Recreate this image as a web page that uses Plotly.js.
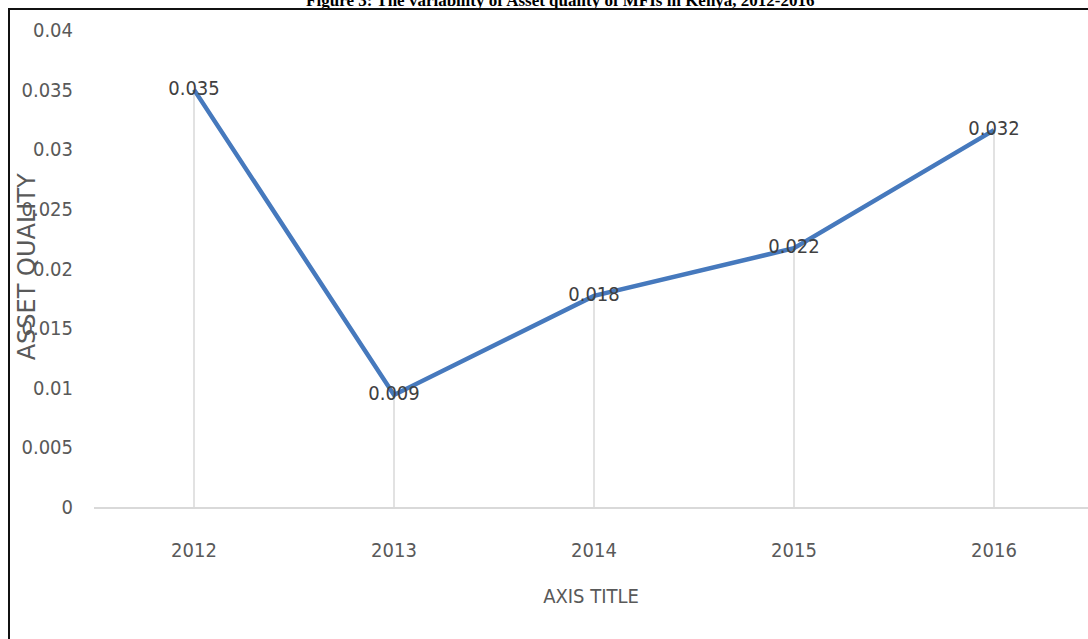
<!DOCTYPE html>
<html>
<head>
<meta charset="utf-8">
<script src="https://cdn.plot.ly/plotly-3.0.1.min.js"></script>
<style>
  html, body { margin: 0; padding: 0; background: #fff; overflow: hidden; }
  #wrap { position: relative; width: 1088px; height: 639px; }
  #chart { width: 1088px; height: 639px; }
  #frame { position: absolute; left: 8px; top: 8px; width: 1100px; height: 650px;
           border-left: 2px solid #111; border-top: 2px solid #111; pointer-events: none; }
</style>
</head>
<body>
<div id="wrap">
  <div id="chart"></div>
  <div id="frame"></div>
</div>
<script>
const years = ['2012', '2013', '2014', '2015', '2016'];
const assetQuality = [0.035, 0.0094, 0.0177, 0.0217, 0.0316];
const pointLabels = ['0.035', '0.009', '0.018', '0.022', '0.032'];
const yTickVals = [0, 0.005, 0.01, 0.015, 0.02, 0.025, 0.03, 0.035, 0.04];
const yTickText = ['0', '0.005', '0.01', '0.015', '0.02', '0.025', '0.03', '0.035', '0.04'];
const chartTitle = 'Figure 3: The variability of Asset quality of MFIs in Kenya, 2012-2016';
const xTitle = 'AXIS TITLE';
const yTitle = 'ASSET QUALITY';

const labelFont = 'DejaVu Sans Condensed, DejaVu Sans, sans-serif';

const trace = {
  x: years,
  y: assetQuality,
  type: 'scatter',
  mode: 'lines+text',
  text: pointLabels,
  textposition: 'middle center',
  textfont: { family: labelFont, size: 20, color: '#404040' },
  line: { color: '#4679bd', width: 4.5 },
  error_y: {
    type: 'data', symmetric: false,
    array: assetQuality.map(() => 0),
    arrayminus: assetQuality,
    width: 0, color: '#d9d9d9', thickness: 1.5
  },
  hoverinfo: 'x+y',
  cliponaxis: false
};

const layout = {
  width: 1088,
  height: 639,
  margin: { l: 94, r: 0, t: 30, b: 132, pad: 0 },
  paper_bgcolor: '#ffffff',
  plot_bgcolor: '#ffffff',
  showlegend: false,
  title: {
    text: '<b>' + chartTitle + '</b>',
    font: { family: 'Liberation Serif, Times New Roman, serif', size: 17, color: '#000' },
    x: 0.515, xanchor: 'center', xref: 'container',
    y: 1, yanchor: 'middle', yref: 'container'
  },
  xaxis: {
    type: 'category',
    range: [-0.5, 4.47],
    showgrid: false,
    zeroline: false,
    showline: true,
    linecolor: '#d9d9d9',
    linewidth: 2,
    ticks: '',
    ticklabelstandoff: 24,
    tickfont: { family: labelFont, size: 20, color: '#595959' },
    title: { text: xTitle, standoff: 28, font: { family: labelFont, size: 20, color: '#595959' } }
  },
  yaxis: {
    range: [0, 0.04],
    tickvals: yTickVals,
    ticktext: yTickText,
    showgrid: false,
    zeroline: false,
    showline: false,
    ticks: '',
    ticklabelstandoff: 20,
    tickfont: { family: labelFont, size: 20, color: '#595959' }
  },
  annotations: [{
    text: yTitle,
    xref: 'paper', yref: 'y',
    x: (27 - 94) / 994, y: 0.0201,
    xanchor: 'center', yanchor: 'middle',
    textangle: -90,
    showarrow: false,
    font: { family: 'DejaVu Sans, sans-serif', size: 24, color: '#595959' }
  }]
};

Plotly.newPlot('chart', [trace], layout, { displayModeBar: false, staticPlot: true });
</script>
</body>
</html>
